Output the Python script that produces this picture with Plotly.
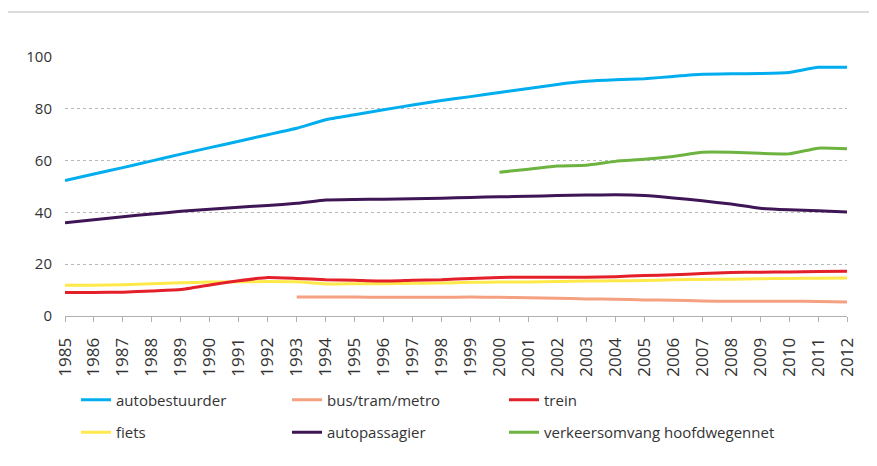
import plotly.graph_objects as go

years = list(range(1985, 2013))

autobestuurder = [52.3, 54.8, 57.3, 59.9, 62.5, 65.0, 67.5, 70.0, 72.5, 75.8, 77.7, 79.6, 81.5, 83.2,
                  84.7, 86.3, 87.8, 89.4, 90.6, 91.2, 91.6, 92.5, 93.3, 93.5, 93.6, 94.0, 96.0, 96.0]
bus_tram_metro = [None] * 8 + [7.3, 7.3, 7.3, 7.2, 7.2, 7.2,
                               7.3, 7.2, 7.0, 6.9, 6.6, 6.5, 6.2, 6.1, 5.8, 5.7, 5.7, 5.7, 5.6, 5.4]
trein = [9.1, 9.1, 9.2, 9.7, 10.2, 12.0, 13.6, 14.9, 14.5, 14.0, 13.8, 13.5, 13.8, 14.0,
         14.5, 14.9, 15.0, 15.0, 15.0, 15.2, 15.6, 15.9, 16.4, 16.8, 16.9, 17.0, 17.2, 17.3]
fiets = [11.9, 11.9, 12.1, 12.5, 12.8, 13.1, 13.2, 13.3, 13.2, 12.4, 12.5, 12.5, 12.6, 12.7,
         13.0, 13.1, 13.1, 13.3, 13.5, 13.6, 13.7, 14.0, 14.1, 14.2, 14.4, 14.5, 14.6, 14.7]
autopassagier = [36.0, 37.2, 38.3, 39.4, 40.4, 41.2, 42.0, 42.7, 43.5, 44.8, 45.0, 45.1, 45.3, 45.5,
                 45.8, 46.0, 46.2, 46.5, 46.7, 46.8, 46.5, 45.6, 44.5, 43.2, 41.6, 41.0, 40.6, 40.2]
verkeersomvang = [None] * 15 + [55.5, 56.7, 57.9, 58.2, 59.7, 60.5, 61.6, 63.2, 63.2, 62.8, 62.6, 64.8, 64.6]

y_ticks = [0, 20, 40, 60, 80, 100]

series = [
    ("autobestuurder", autobestuurder, "#00aeef", "legend"),
    ("fiets", fiets, "#ffe94a", "legend"),
    ("bus/tram/metro", bus_tram_metro, "#f5a081", "legend2"),
    ("autopassagier", autopassagier, "#3f1655", "legend2"),
    ("trein", trein, "#e3202a", "legend3"),
    ("verkeersomvang hoofdwegennet", verkeersomvang, "#6cb33f", "legend3"),
]

fig = go.Figure()
for i, (name, vals, color, lg) in enumerate(series):
    fig.add_trace(go.Scatter(
        x=years, y=vals, name=name, mode="lines",
        line=dict(color=color, width=3, shape="spline", smoothing=0.4),
        legend=lg, legendgroup=f"g{i}", connectgaps=False,
    ))

font_family = "Open Sans, Noto Sans, sans-serif"

def legend_at(xpx):
    return dict(orientation="v", x=(xpx - 65) / 782, xanchor="left", y=-0.261, yanchor="top",
                tracegroupgap=10,
                font=dict(size=15, color="#333333", family=font_family),
                bgcolor="rgba(0,0,0,0)", itemclick=False, itemdoubleclick=False)

fig.update_layout(
    width=877, height=466,
    margin=dict(l=57, r=38, t=49, b=158),
    paper_bgcolor="white", plot_bgcolor="white",
    font=dict(family=font_family, color="#333333", size=14),
    showlegend=True,
    legend=legend_at(76),
    legend2=legend_at(287),
    legend3=legend_at(504),
    xaxis=dict(range=[1985, 2012], tickmode="array", tickvals=years,
               ticktext=[str(y) for y in years], tickangle=-90,
               showgrid=False, zeroline=False, showline=True, linecolor="#b0b0b0", linewidth=1,
               ticks="outside", ticklen=5, tickcolor="#b0b0b0", ticklabelstandoff=9,
               tickfont=dict(size=17, color="#333333")),
    yaxis=dict(range=[0, 100], tickmode="array", tickvals=y_ticks,
               showgrid=True, gridcolor="#b8b8b8", griddash="dot", gridwidth=1,
               zeroline=False, showline=False, ticks="", ticklabelstandoff=12,
               tickfont=dict(size=15, color="#333333")),
    shapes=[
        dict(type="line", xref="paper", yref="paper", x0=-0.0767, x1=1.06, y0=1.1737, y1=1.1737,
             line=dict(color="#dcdcdc", width=2)),
        dict(type="line", xref="paper", yref="paper", x0=-0.0767, x1=-0.0767, y0=1.1737, y1=-0.6,
             line=dict(color="#dcdcdc", width=2)),
    ],
)

fig.write_html("out.html")
